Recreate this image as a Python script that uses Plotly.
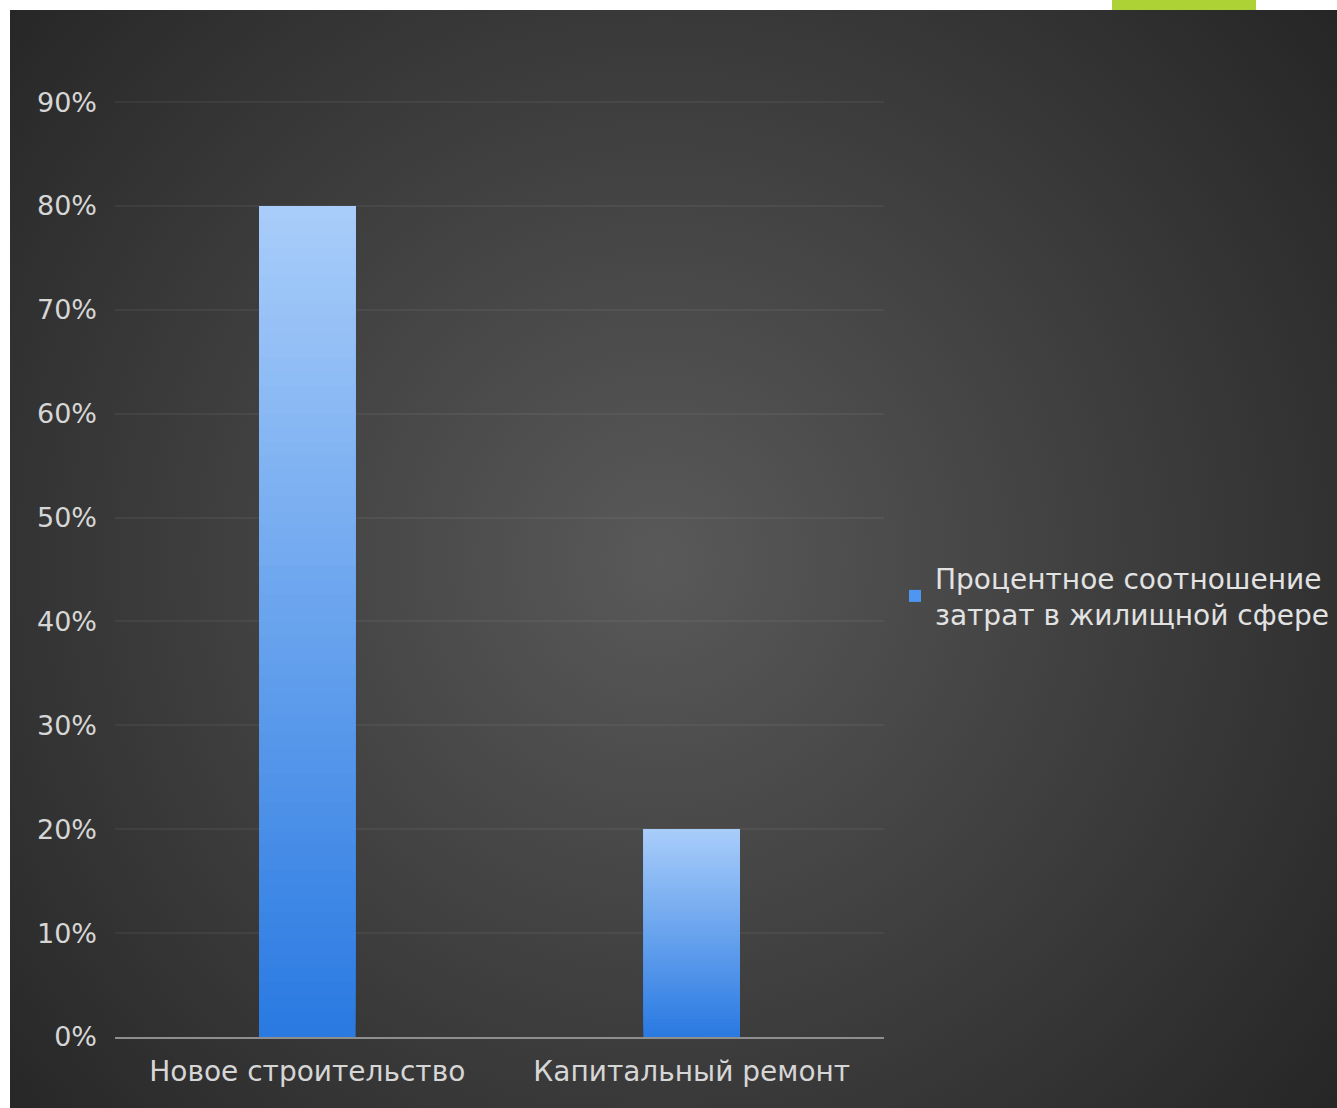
import base64
import plotly.graph_objects as go

# ---- data ----
categories = ["Новое строительство", "Капитальный ремонт"]
values = [0.80, 0.20]
series_name = "Процентное соотношение<br>затрат в жилищной сфере"
y_tick_vals = [0.0, 0.1, 0.2, 0.3, 0.4, 0.5, 0.6, 0.7, 0.8, 0.9]
y_tick_text = ["0%", "10%", "20%", "30%", "40%", "50%", "60%", "70%", "80%", "90%"]

# ---- style ----
W, H = 1337, 1108
ML, MR, MT, MB = 115, 453, 100, 71
PW, PH = W - ML - MR, H - MT - MB
bottom_rgb = (42, 122, 226)
top_rgb = (170, 206, 250)
N_SEG = 60
font_family = "DejaVu Sans, Liberation Sans, Arial, sans-serif"
text_color = "#d6d6d6"

svg = f"""<svg xmlns='http://www.w3.org/2000/svg' width='{W}' height='{H}' viewBox='0 0 {W} {H}'>
<defs><radialGradient id='g' cx='660' cy='560' r='900' gradientUnits='userSpaceOnUse'>
<stop offset='0' stop-color='#595959'/><stop offset='1' stop-color='#242424'/></radialGradient></defs>
<rect width='{W}' height='{H}' fill='url(#g)'/>
<rect width='{W}' height='10' fill='#ffffff'/>
<rect width='10' height='{H}' fill='#ffffff'/>
<rect x='1112' y='0' width='144' height='10' fill='#acd236'/>
</svg>"""
bg_src = "data:image/svg+xml;base64," + base64.b64encode(svg.encode("utf-8")).decode("ascii")

fig = go.Figure()

# legend carrier (fully covered by gradient segments)
fig.add_trace(go.Bar(
    x=categories, y=values, name=series_name,
    marker=dict(color="#4d97f2", line=dict(width=0)),
    width=0.25, showlegend=True, hoverinfo="skip",
))

# vertical gradient built from stacked segments of each bar
for i in range(N_SEG):
    f = i / N_SEG
    c = tuple(round(bottom_rgb[k] + (top_rgb[k] - bottom_rgb[k]) * f) for k in range(3))
    bases = [v * f for v in values]
    heights = [v - b for v, b in zip(values, bases)]
    fig.add_trace(go.Bar(
        x=categories, y=heights, base=bases,
        marker=dict(color=f"rgb{c}", line=dict(width=0)),
        width=0.25, showlegend=False, hoverinfo="skip",
    ))

fig.update_layout(
    width=W, height=H,
    margin=dict(l=ML, r=MR, t=MT, b=MB, pad=0, autoexpand=False),
    barmode="overlay",
    paper_bgcolor="#2b2b2b",
    plot_bgcolor="rgba(0,0,0,0)",
    font=dict(family=font_family, size=28, color=text_color),
    showlegend=True,
    legend=dict(
        x=(895 - ML) / PW, xanchor="left",
        y=(1037 - 596) / PH, yanchor="middle",
        bgcolor="rgba(0,0,0,0)",
        font=dict(family=font_family, size=28, color="#e2e2e2"),
        valign="middle",
    ),
    images=[dict(
        source=bg_src, xref="paper", yref="paper",
        x=-ML / PW, y=1 + MT / PH, sizex=W / PW, sizey=H / PH,
        xanchor="left", yanchor="top", sizing="stretch", layer="below",
    )],
    xaxis=dict(
        range=[-0.5, 1.5],
        showgrid=False, zeroline=False,
        showline=True, linecolor="#8e8e8e", linewidth=2,
        ticks="", ticklabelstandoff=8,
        tickfont=dict(family=font_family, size=28, color=text_color),
    ),
    yaxis=dict(
        range=[0, 0.902],
        tickvals=y_tick_vals, ticktext=y_tick_text,
        showgrid=True, gridcolor="rgba(255,255,255,0.05)", gridwidth=1.5,
        zeroline=False, showline=False,
        ticks="", ticklabelstandoff=17,
        tickfont=dict(family=font_family, size=27, color=text_color),
    ),
)

fig.write_html(
    "out.html",
    config={"displayModeBar": False},
    post_script="document.body.style.margin='0';document.documentElement.style.overflow='hidden';",
)
